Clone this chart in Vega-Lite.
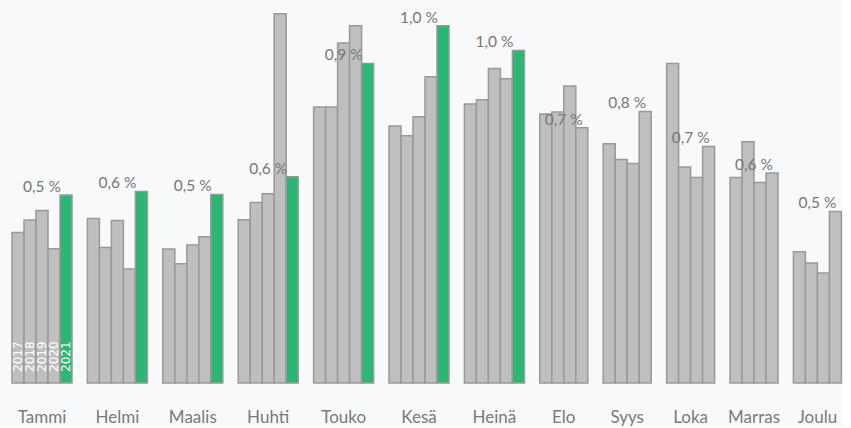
{
  "$schema": "https://vega.github.io/schema/vega-lite/v6.json",
  "background": "#f8f9fb",
  "padding": {"left": 11, "top": 10, "right": 0, "bottom": 0},
  "bounds": "flush",
  "data": {
    "values": [
      {"month": "Tammi", "year": 2017, "value": 150.6},
      {"month": "Tammi", "year": 2018, "value": 163},
      {"month": "Tammi", "year": 2019, "value": 172.6},
      {"month": "Tammi", "year": 2020, "value": 134.3},
      {"month": "Tammi", "year": 2021, "value": 188, "pct": "0,5 %"},
      {"month": "Helmi", "year": 2017, "value": 164.6},
      {"month": "Helmi", "year": 2018, "value": 135.6},
      {"month": "Helmi", "year": 2019, "value": 162.6},
      {"month": "Helmi", "year": 2020, "value": 114},
      {"month": "Helmi", "year": 2021, "value": 191.6, "pct": "0,6 %"},
      {"month": "Maalis", "year": 2017, "value": 134},
      {"month": "Maalis", "year": 2018, "value": 119.3},
      {"month": "Maalis", "year": 2019, "value": 138},
      {"month": "Maalis", "year": 2020, "value": 146.3},
      {"month": "Maalis", "year": 2021, "value": 188.6, "pct": "0,5 %"},
      {"month": "Huhti", "year": 2017, "value": 163.3},
      {"month": "Huhti", "year": 2018, "value": 180.6},
      {"month": "Huhti", "year": 2019, "value": 189.3},
      {"month": "Huhti", "year": 2020, "value": 369.3},
      {"month": "Huhti", "year": 2021, "value": 206.3, "pct": "0,6 %"},
      {"month": "Touko", "year": 2017, "value": 276},
      {"month": "Touko", "year": 2018, "value": 276},
      {"month": "Touko", "year": 2019, "value": 340},
      {"month": "Touko", "year": 2020, "value": 357.3},
      {"month": "Touko", "year": 2021, "value": 319.6, "pct": "0,9 %"},
      {"month": "Kesä", "year": 2017, "value": 257},
      {"month": "Kesä", "year": 2018, "value": 247.3},
      {"month": "Kesä", "year": 2019, "value": 266.3},
      {"month": "Kesä", "year": 2020, "value": 306.3},
      {"month": "Kesä", "year": 2021, "value": 357.3, "pct": "1,0 %"},
      {"month": "Heinä", "year": 2017, "value": 279},
      {"month": "Heinä", "year": 2018, "value": 283.3},
      {"month": "Heinä", "year": 2019, "value": 314.6},
      {"month": "Heinä", "year": 2020, "value": 304.3},
      {"month": "Heinä", "year": 2021, "value": 332.6, "pct": "1,0 %"},
      {"month": "Elo", "year": 2017, "value": 269},
      {"month": "Elo", "year": 2018, "value": 271},
      {"month": "Elo", "year": 2019, "value": 297},
      {"month": "Elo", "year": 2020, "value": 255.3, "pct": "0,7 %"},
      {"month": "Syys", "year": 2017, "value": 239.3},
      {"month": "Syys", "year": 2018, "value": 223.6},
      {"month": "Syys", "year": 2019, "value": 219.6},
      {"month": "Syys", "year": 2020, "value": 271.6, "pct": "0,8 %"},
      {"month": "Loka", "year": 2017, "value": 319.6},
      {"month": "Loka", "year": 2018, "value": 216},
      {"month": "Loka", "year": 2019, "value": 205.6},
      {"month": "Loka", "year": 2020, "value": 236.6, "pct": "0,7 %"},
      {"month": "Marras", "year": 2017, "value": 205.6},
      {"month": "Marras", "year": 2018, "value": 241.3},
      {"month": "Marras", "year": 2019, "value": 200.6},
      {"month": "Marras", "year": 2020, "value": 210, "pct": "0,6 %"},
      {"month": "Joulu", "year": 2017, "value": 131.3},
      {"month": "Joulu", "year": 2018, "value": 120},
      {"month": "Joulu", "year": 2019, "value": 110},
      {"month": "Joulu", "year": 2020, "value": 171.6, "pct": "0,5 %"}
    ]
  },
  "facet": {
    "column": {
      "field": "month",
      "sort": ["Tammi", "Helmi", "Maalis", "Huhti", "Touko", "Kesä", "Heinä", "Elo", "Syys", "Loka", "Marras", "Joulu"],
      "header": {
        "title": null,
        "labelOrient": "bottom",
        "labelFontSize": 17,
        "labelColor": "#7a7a7a",
        "labelFont": "Lato",
        "labelPadding": 27
      }
    }
  },
  "spacing": 15.4,
  "resolve": {"scale": {"x": "independent"}},
  "spec": {
    "width": {"step": 12},
    "height": 370,
    "layer": [
      {
        "mark": {"type": "bar", "stroke": "#999999", "strokeWidth": 1.5},
        "encoding": {
          "x": {"field": "year", "type": "ordinal", "axis": null,
                "scale": {"paddingInner": 0, "paddingOuter": 0}},
          "y": {"field": "value", "type": "quantitative", "axis": null,
                "scale": {"domain": [0, 370], "nice": false}},
          "color": {
            "condition": {"test": "datum.year === 2021", "value": "#2bb673"},
            "value": "#bfbfbf"
          }
        }
      },
      {
        "transform": [{"filter": "datum.month === 'Tammi'"}],
        "mark": {"type": "text", "angle": 270, "align": "left", "baseline": "middle",
                 "color": "white", "fontSize": 12, "font": "DejaVu Sans", "dx": 11},
        "encoding": {
          "x": {"field": "year", "type": "ordinal"},
          "y": {"datum": 0, "type": "quantitative"},
          "text": {"field": "year", "type": "ordinal"}
        }
      },
      {
        "transform": [{"filter": "datum.pct != null && datum.year === 2021"}],
        "mark": {"type": "text", "baseline": "bottom", "dy": 0, "dx": -24,
                 "color": "#777777", "fontSize": 15.5, "font": "Lato"},
        "encoding": {
          "x": {"field": "year", "type": "ordinal"},
          "y": {"field": "value", "type": "quantitative"},
          "text": {"field": "pct"}
        }
      },
      {
        "transform": [{"filter": "datum.pct != null && datum.year === 2020"}],
        "mark": {"type": "text", "baseline": "bottom", "dy": 0, "dx": -18,
                 "color": "#777777", "fontSize": 15.5, "font": "Lato"},
        "encoding": {
          "x": {"field": "year", "type": "ordinal"},
          "y": {"field": "value", "type": "quantitative"},
          "text": {"field": "pct"}
        }
      }
    ]
  },
  "config": {"view": {"stroke": null}}
}
